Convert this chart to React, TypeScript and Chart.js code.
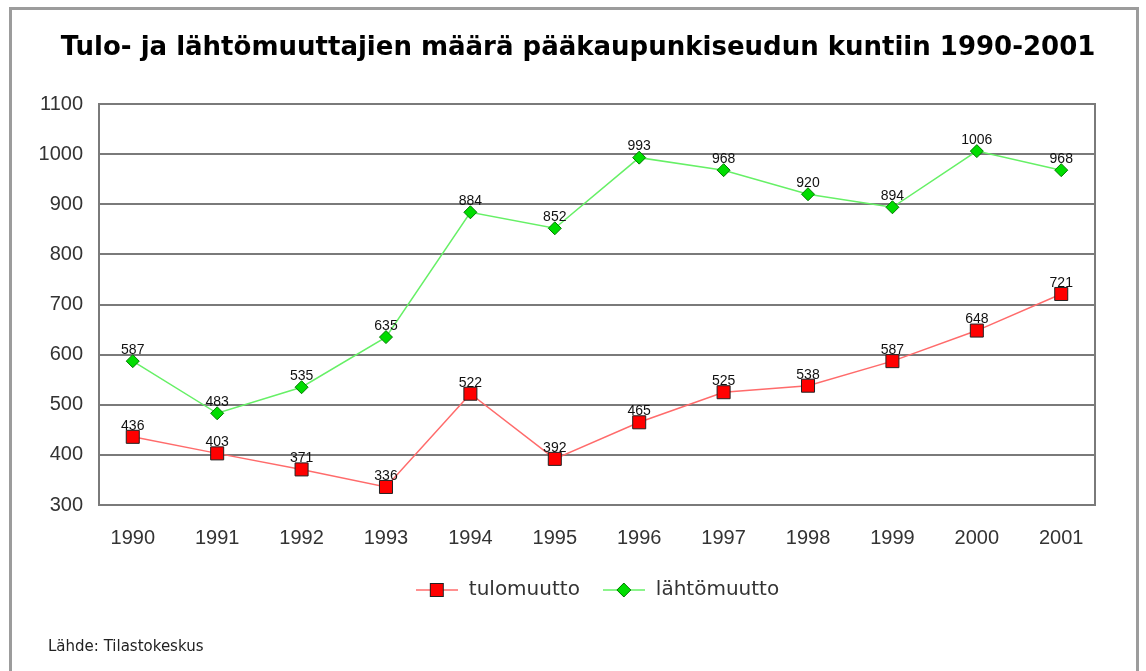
import React, { useEffect, useRef } from 'react';
import { Chart, registerables } from 'chart.js';

Chart.register(...registerables);

// ---- data ----
const YEARS = [1990, 1991, 1992, 1993, 1994, 1995, 1996, 1997, 1998, 1999, 2000, 2001];
const YEAR_LABELS = ['1990', '1991', '1992', '1993', '1994', '1995', '1996', '1997', '1998', '1999', '2000', '2001'];
const TULOMUUTTO = [436, 403, 371, 336, 522, 392, 465, 525, 538, 587, 648, 721];
const LAHTOMUUTTO = [587, 483, 535, 635, 884, 852, 993, 968, 920, 894, 1006, 968];
const Y_TICKS = [300, 400, 500, 600, 700, 800, 900, 1000, 1100];
const SERIES_NAMES = ['tulomuutto', 'lähtömuutto'];
const TITLE = 'Tulo- ja lähtömuuttajien määrä pääkaupunkiseudun kuntiin 1990-2001';
const SOURCE = 'Lähde: Tilastokeskus';

const RED_LINE = '#ff6b6b';
const RED_FILL = '#ff0000';
const GREEN_LINE = '#66f066';
const GREEN_FILL = '#00dd00';
const GRID = '#7a7a7a';
const TEXT = '#333333';

function makeLegendImage(kind: 'rect' | 'diamond'): HTMLCanvasElement {
  const c = document.createElement('canvas');
  c.width = 42;
  c.height = 18;
  const ctx = c.getContext('2d')!;
  ctx.lineWidth = 1.5;
  ctx.strokeStyle = kind === 'rect' ? RED_LINE : GREEN_LINE;
  ctx.beginPath();
  ctx.moveTo(0, 9);
  ctx.lineTo(42, 9);
  ctx.stroke();
  if (kind === 'rect') {
    ctx.fillStyle = RED_FILL;
    ctx.strokeStyle = '#222';
    ctx.lineWidth = 1;
    ctx.fillRect(14, 2, 14, 14);
    ctx.strokeRect(14.5, 2.5, 13, 13);
  } else {
    ctx.fillStyle = GREEN_FILL;
    ctx.strokeStyle = '#007a00';
    ctx.lineWidth = 1;
    ctx.beginPath();
    ctx.moveTo(21, 2);
    ctx.lineTo(28, 9);
    ctx.lineTo(21, 16);
    ctx.lineTo(14, 9);
    ctx.closePath();
    ctx.fill();
    ctx.stroke();
  }
  return c;
}

const framePlugin = {
  id: 'frame',
  beforeDraw(chart: any) {
    const ctx = chart.ctx;
    ctx.save();
    ctx.fillStyle = '#ffffff';
    ctx.fillRect(0, 0, chart.width, chart.height);
    ctx.strokeStyle = '#9c9c9c';
    ctx.lineWidth = 3;
    ctx.beginPath();
    ctx.moveTo(10.5, 680);
    ctx.lineTo(10.5, 8.5);
    ctx.lineTo(1137.5, 8.5);
    ctx.lineTo(1137.5, 680);
    ctx.stroke();
    ctx.restore();
  },
};

const dataLabelPlugin = {
  id: 'dataLabels',
  afterDatasetsDraw(chart: any) {
    const ctx = chart.ctx;
    ctx.save();
    ctx.font = '14px "Liberation Sans", Arial, sans-serif';
    ctx.fillStyle = '#111';
    ctx.textAlign = 'center';
    ctx.textBaseline = 'middle';
    chart.data.datasets.forEach((ds: any, i: number) => {
      const meta = chart.getDatasetMeta(i);
      meta.data.forEach((pt: any, j: number) => {
        const v = ds.data[j].y;
        ctx.fillText(String(v), pt.x, pt.y - 11);
      });
    });
    ctx.restore();
  },
};

const sourcePlugin = {
  id: 'sourceText',
  afterDraw(chart: any) {
    const ctx = chart.ctx;
    ctx.save();
    ctx.font = '15px "DejaVu Sans", sans-serif';
    ctx.fillStyle = '#222';
    ctx.textAlign = 'left';
    ctx.textBaseline = 'middle';
    ctx.fillText(SOURCE, 48, 647);
    ctx.restore();
  },
};

export default function App() {
  const canvasRef = useRef<HTMLCanvasElement | null>(null);

  useEffect(() => {
    if (!canvasRef.current) return;
    const legendImages = [makeLegendImage('rect'), makeLegendImage('diamond')];
    const chart = new Chart(canvasRef.current, {
      type: 'line',
      data: {
        datasets: [
          {
            label: SERIES_NAMES[0],
            data: YEARS.map((y, i) => ({ x: y, y: TULOMUUTTO[i] })),
            borderColor: RED_LINE,
            borderWidth: 1.5,
            backgroundColor: RED_FILL,
            pointStyle: 'rect',
            pointRadius: 9.2,
            pointBackgroundColor: RED_FILL,
            pointBorderColor: '#222',
            pointBorderWidth: 1,
            tension: 0,
          },
          {
            label: SERIES_NAMES[1],
            data: YEARS.map((y, i) => ({ x: y, y: LAHTOMUUTTO[i] })),
            borderColor: GREEN_LINE,
            borderWidth: 1.5,
            backgroundColor: GREEN_FILL,
            pointStyle: 'rectRot',
            pointRadius: 6.5,
            pointBackgroundColor: GREEN_FILL,
            pointBorderColor: '#007a00',
            pointBorderWidth: 1,
            tension: 0,
          },
        ],
      },
      options: {
        animation: false,
        responsive: true,
        maintainAspectRatio: false,
        events: [],
        layout: { padding: { left: 10, right: 0, top: 0, bottom: 61 } },
        scales: {
          x: {
            type: 'linear',
            min: YEARS[0] - 0.4,
            max: YEARS[YEARS.length - 1] + 0.4,
            afterBuildTicks: (scale: any) => {
              scale.ticks = YEARS.map((v) => ({ value: v }));
            },
            afterFit: (scale: any) => {
              scale.height = 53;
            },
            grid: { display: false, drawTicks: false },
            border: { display: true, color: GRID, width: 2 },
            ticks: {
              padding: 21,
              color: TEXT,
              font: { family: '"Liberation Sans", Arial, sans-serif', size: 20 },
              maxRotation: 0,
              autoSkip: false,
              callback: (v: any) => YEAR_LABELS[YEARS.indexOf(Number(v))] ?? '',
            },
          },
          y: {
            type: 'linear',
            min: Y_TICKS[0],
            max: Y_TICKS[Y_TICKS.length - 1],
            afterBuildTicks: (scale: any) => {
              scale.ticks = Y_TICKS.map((v) => ({ value: v }));
            },
            afterFit: (scale: any) => {
              scale.width = 89;
            },
            grid: { color: GRID, lineWidth: 2, drawTicks: false },
            border: { display: true, color: GRID, width: 2 },
            ticks: {
              padding: 16,
              color: TEXT,
              font: { family: '"Liberation Sans", Arial, sans-serif', size: 20 },
              callback: (v: any) => String(v),
            },
          },
          y2: {
            type: 'linear',
            position: 'right',
            min: Y_TICKS[0],
            max: Y_TICKS[Y_TICKS.length - 1],
            afterFit: (scale: any) => {
              scale.width = 51;
            },
            grid: { display: false, drawTicks: false },
            border: { display: true, color: GRID, width: 2 },
            ticks: { display: false },
          },
        },
        plugins: {
          title: {
            display: true,
            text: TITLE,
            color: '#000',
            font: { family: '"DejaVu Sans", sans-serif', size: 26, weight: 'bold' },
            padding: { top: 32.4, bottom: 40.4 },
          },
          legend: {
            display: true,
            position: 'bottom',
            fullSize: false,
            labels: {
              usePointStyle: true,
              pointStyleWidth: 44,
              padding: 22,
              color: TEXT,
              font: { family: '"DejaVu Sans", sans-serif', size: 20 },
              generateLabels: (ch: any) => {
                const items = Chart.defaults.plugins.legend.labels.generateLabels(ch);
                return items.map((it: any, i: number) => ({ ...it, pointStyle: legendImages[i] }));
              },
            },
          },
          tooltip: { enabled: false },
        },
      },
      plugins: [framePlugin, dataLabelPlugin, sourcePlugin],
    } as any);
    return () => chart.destroy();
  }, []);

  return (
    <div style={{ position: 'fixed', left: 0, top: 0, width: 1146, height: 671, background: '#fff' }}>
      <canvas ref={canvasRef} />
    </div>
  );
}
